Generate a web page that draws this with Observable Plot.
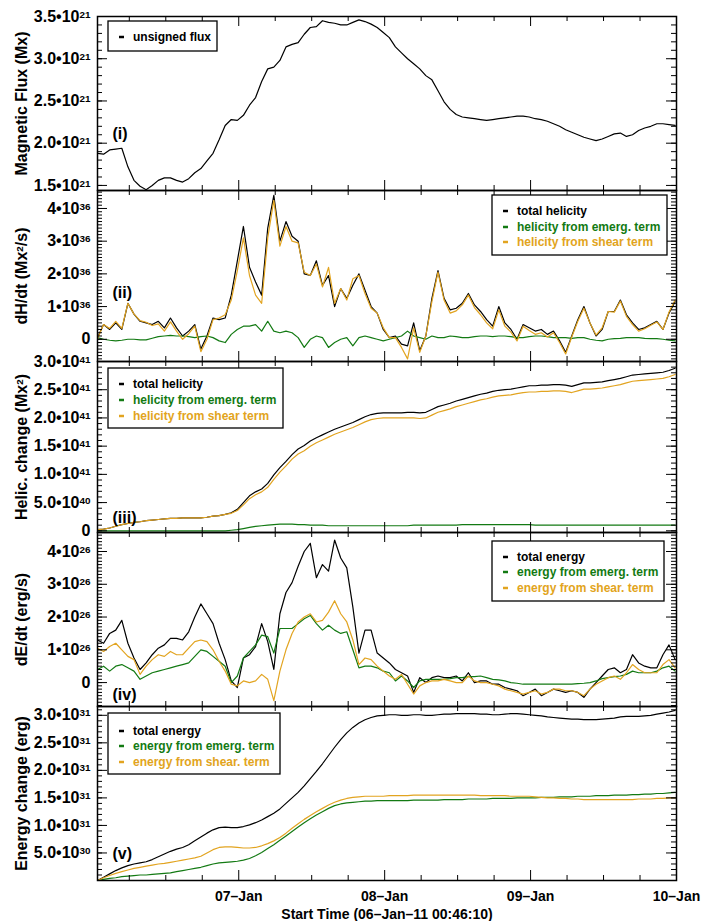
<!DOCTYPE html>
<html><head><meta charset="utf-8">
<script src="https://cdn.jsdelivr.net/npm/d3@7"></script>
<script src="https://cdn.jsdelivr.net/npm/@observablehq/plot@0.6"></script>
<style>
body{margin:0;background:#fff;}
#chart{width:705px;position:relative;}
#chart svg{display:block;}
</style></head><body><div id="chart"></div><script>
// ---------- time axis ----------
const startOffsetHours = 46/60 + 10/3600;          // 06-Jan-11 00:46:10
const hours = d3.range(0, 96);                      // sample times, hours after start
const xEnd = 96 - startOffsetHours;                 // 10-Jan 00:00
const dayLabels = ["07–Jan", "08–Jan", "09–Jan", "10–Jan"];
const dayTicks = [1, 2, 3, 4].map(d => d * 24 - startOffsetHours);
const sixHourTicks = d3.range(6, 96, 6).filter(h => h % 24 !== 0).map(h => h - startOffsetHours);
const xTitle = "Start Time (06–Jan–11 00:46:10)";

// ---------- (i) unsigned flux, 1e21 Mx ----------
const fluxUnsigned = [1.88,1.87,1.92,1.93,1.94,1.72,1.56,1.49,1.45,1.50,
 1.56,1.59,1.59,1.56,1.54,1.58,1.65,1.70,1.79,1.88,
 2.04,2.21,2.28,2.27,2.33,2.45,2.54,2.73,2.88,2.90,
 2.98,3.14,3.17,3.19,3.29,3.37,3.38,3.45,3.43,3.42,
 3.40,3.40,3.43,3.46,3.44,3.41,3.37,3.31,3.25,3.14,
 3.07,3.00,2.94,2.88,2.80,2.75,2.62,2.49,2.40,2.34,
 2.31,2.30,2.29,2.28,2.27,2.28,2.29,2.30,2.31,2.32,
 2.32,2.31,2.29,2.28,2.26,2.23,2.20,2.16,2.13,2.10,
 2.07,2.05,2.03,2.05,2.08,2.11,2.12,2.08,2.10,2.15,
 2.18,2.20,2.23,2.23,2.22,2.21];

// ---------- (ii) dH/dt, 1e36 Mx^2/s ----------
const dHdtTotal = [0.05,0.45,0.30,0.50,0.30,1.10,0.77,0.55,0.50,0.45,
 0.55,0.35,0.65,0.35,0.10,0.25,0.45,-0.30,0.10,0.65,
 0.60,0.65,1.35,2.40,3.45,2.20,1.75,1.35,3.40,4.40,
 3.00,3.60,3.15,3.00,2.00,1.95,2.40,1.65,1.95,1.00,
 1.55,1.25,1.65,2.00,1.50,1.00,0.80,0.30,0.05,0.10,
 -0.15,-0.20,0.50,-0.35,0.10,1.25,2.10,1.25,0.90,0.95,
 1.10,1.40,1.05,0.85,0.60,0.40,1.00,0.50,0.30,0.00,
 0.45,0.35,0.25,0.30,0.15,0.25,-0.05,-0.40,0.10,0.60,
 1.00,0.50,0.10,0.30,0.85,0.85,1.20,0.75,0.50,0.30,
 0.35,0.45,0.55,0.30,0.80,1.15];
const dHdtEmerg = [0.05,0.00,-0.03,-0.05,-0.03,0.00,0.00,-0.02,-0.02,0.03,
 0.08,0.10,0.12,0.10,0.10,0.08,0.05,0.08,0.10,0.05,
 -0.05,-0.10,0.15,0.30,0.40,0.40,0.45,0.25,0.55,0.25,
 0.20,0.25,0.20,0.05,-0.25,0.00,0.10,0.05,-0.25,-0.10,
 0.00,0.05,-0.20,0.05,0.10,0.05,0.00,-0.05,0.00,0.05,
 0.10,0.25,0.10,0.05,0.00,0.10,0.05,0.05,0.10,0.08,
 0.05,0.05,0.08,0.10,0.10,0.08,0.10,0.10,0.08,0.05,
 0.05,0.08,0.10,0.10,0.08,0.05,0.05,0.05,0.03,0.05,
 0.05,0.00,-0.03,-0.05,0.00,0.02,0.03,0.05,0.05,0.05,
 0.03,0.02,0.02,0.00,-0.03,-0.05];
const dHdtShear = [0.02,0.45,0.33,0.55,0.33,1.10,0.77,0.57,0.52,0.42,
 0.47,0.25,0.53,0.25,0.00,0.17,0.40,-0.38,0.00,0.60,
 0.65,0.75,1.20,2.10,3.10,1.95,1.35,1.10,3.10,4.25,
 2.85,3.45,3.00,2.95,2.05,1.95,2.30,1.60,2.20,1.10,
 1.55,1.20,1.85,1.95,1.40,0.95,0.80,0.35,0.05,0.05,
 -0.25,-0.60,0.35,-0.40,0.10,1.15,2.05,1.20,0.80,0.87,
 1.05,1.35,0.97,0.75,0.50,0.32,0.90,0.40,0.22,-0.05,
 0.40,0.27,0.15,0.20,0.07,0.20,-0.10,-0.45,0.07,0.55,
 0.95,0.50,0.13,0.35,0.85,0.83,1.17,0.70,0.45,0.25,
 0.32,0.43,0.53,0.30,0.83,1.20];

// ---------- (iii) helicity change, 1e41 Mx^2 ----------
const helTotal = [0.02,0.03,0.05,0.08,0.11,0.13,0.15,0.16,0.18,0.19,
 0.20,0.21,0.22,0.22,0.23,0.23,0.23,0.23,0.24,0.26,
 0.27,0.29,0.32,0.38,0.50,0.62,0.69,0.74,0.84,0.99,
 1.12,1.23,1.35,1.45,1.51,1.59,1.65,1.70,1.75,1.80,
 1.84,1.88,1.92,1.97,2.02,2.06,2.08,2.09,2.09,2.09,
 2.09,2.10,2.10,2.09,2.10,2.15,2.20,2.23,2.26,2.30,
 2.33,2.36,2.39,2.42,2.44,2.47,2.49,2.50,2.51,2.53,
 2.55,2.57,2.57,2.58,2.58,2.59,2.59,2.58,2.56,2.59,
 2.62,2.62,2.63,2.64,2.66,2.68,2.70,2.73,2.76,2.77,
 2.78,2.79,2.80,2.81,2.84,2.88];
const helEmerg = [0.00,0.00,0.00,0.00,0.00,0.00,0.00,0.00,0.00,0.00,
 0.00,0.00,0.00,0.00,0.00,0.00,0.00,0.00,0.00,0.00,
 0.00,0.00,0.01,0.02,0.04,0.06,0.08,0.09,0.10,0.11,
 0.12,0.12,0.12,0.11,0.11,0.10,0.10,0.10,0.09,0.09,
 0.09,0.09,0.09,0.09,0.09,0.09,0.09,0.09,0.09,0.09,
 0.09,0.09,0.10,0.10,0.10,0.10,0.10,0.10,0.10,0.10,
 0.11,0.11,0.11,0.11,0.11,0.11,0.11,0.11,0.11,0.11,
 0.11,0.11,0.10,0.10,0.10,0.10,0.10,0.10,0.10,0.10,
 0.10,0.10,0.10,0.10,0.10,0.10,0.10,0.10,0.10,0.10,
 0.10,0.10,0.10,0.10,0.10,0.10];
const helShear = [0.02,0.03,0.05,0.08,0.11,0.13,0.15,0.16,0.18,0.19,
 0.20,0.21,0.22,0.22,0.23,0.23,0.23,0.23,0.24,0.26,
 0.27,0.29,0.31,0.36,0.46,0.57,0.64,0.69,0.77,0.91,
 1.04,1.15,1.27,1.36,1.42,1.50,1.56,1.61,1.66,1.71,
 1.75,1.79,1.83,1.88,1.93,1.97,1.99,2.00,2.00,2.00,
 2.00,2.00,2.00,1.99,2.00,2.05,2.10,2.13,2.16,2.20,
 2.23,2.26,2.29,2.32,2.34,2.37,2.39,2.40,2.41,2.43,
 2.45,2.46,2.46,2.47,2.47,2.48,2.48,2.47,2.45,2.48,
 2.51,2.51,2.52,2.53,2.55,2.57,2.59,2.62,2.65,2.66,
 2.67,2.68,2.69,2.70,2.73,2.77];

// ---------- (iv) dE/dt, 1e26 erg/s ----------
const dEdtTotal = [1.30,1.20,1.50,1.60,1.90,1.20,0.75,0.40,0.60,0.85,
 1.05,1.15,1.35,1.35,1.30,1.55,2.00,2.40,2.10,1.80,
 1.20,0.70,0.05,-0.15,0.75,0.85,1.10,1.80,1.25,0.40,
 2.10,2.75,3.05,3.55,4.00,4.25,3.20,3.60,3.40,4.35,
 3.80,3.50,2.30,0.90,1.60,1.60,0.90,0.75,0.60,0.40,
 0.30,0.20,-0.30,0.15,0.00,0.15,0.20,0.15,0.15,0.20,
 0.05,0.30,0.00,0.05,0.05,-0.05,-0.05,-0.15,-0.20,-0.25,
 -0.40,-0.30,-0.20,-0.40,-0.30,-0.20,-0.25,-0.30,-0.25,-0.30,
 -0.45,-0.20,0.00,0.20,0.40,0.45,0.30,0.40,0.85,0.60,
 0.50,0.45,0.45,0.85,1.15,0.70];
const dEdtEmerg = [0.40,0.50,0.35,0.50,0.55,0.45,0.35,0.10,0.20,0.30,
 0.35,0.40,0.45,0.50,0.55,0.60,0.80,1.00,0.95,0.80,
 0.65,0.50,0.00,0.20,0.75,0.95,1.15,1.45,1.40,0.90,
 1.65,1.65,1.65,1.80,1.95,2.05,1.80,1.60,1.75,1.60,
 1.50,1.55,1.00,0.45,0.50,0.50,0.45,0.35,0.30,0.05,
 0.20,0.05,-0.15,0.05,0.10,0.10,0.10,0.10,0.12,0.15,
 0.15,0.18,0.18,0.20,0.15,0.10,0.08,0.05,0.00,-0.02,
 -0.05,-0.05,-0.05,-0.05,-0.05,-0.05,-0.05,-0.05,-0.05,-0.03,
 -0.02,0.00,0.05,0.12,0.15,0.18,0.20,0.25,0.35,0.30,
 0.30,0.30,0.35,0.45,0.50,0.35];
const dEdtShear = [1.05,0.95,1.10,1.20,1.00,0.80,0.70,0.25,0.50,0.70,
 0.85,0.80,0.95,0.85,0.85,1.05,1.25,1.30,1.25,1.00,
 0.65,0.35,-0.05,-0.10,0.05,0.00,0.05,0.25,0.10,-0.55,
 0.35,1.00,1.50,1.85,2.00,2.10,1.85,1.90,2.15,2.50,
 2.10,1.85,1.30,0.55,0.75,0.70,0.50,0.35,0.20,0.10,
 0.25,-0.05,-0.35,-0.10,0.00,0.05,0.05,0.10,0.05,0.00,
 0.00,0.20,0.05,0.00,0.00,-0.05,-0.10,-0.20,-0.25,-0.30,
 -0.35,-0.30,-0.25,-0.35,-0.30,-0.20,-0.20,-0.25,-0.25,-0.30,
 -0.40,-0.20,-0.05,0.05,0.15,0.20,0.10,0.30,0.55,0.40,
 0.30,0.30,0.30,0.55,0.70,0.45];

// ---------- (v) energy change, 1e31 erg ----------
const energyTotal = [0.00,0.06,0.12,0.18,0.23,0.27,0.30,0.32,0.34,0.38,
 0.43,0.48,0.53,0.57,0.60,0.65,0.72,0.79,0.86,0.92,
 0.96,0.97,0.96,0.96,0.98,1.01,1.05,1.10,1.16,1.22,
 1.30,1.40,1.50,1.60,1.72,1.85,1.98,2.12,2.27,2.42,
 2.56,2.68,2.78,2.86,2.92,2.96,2.99,3.00,3.01,3.01,
 3.00,3.00,3.01,3.01,3.00,3.00,3.01,3.02,3.02,3.03,
 3.03,3.03,3.03,3.02,3.02,3.01,3.01,3.02,3.03,3.03,
 3.02,3.01,3.00,2.99,2.97,2.96,2.95,2.94,2.93,2.93,
 2.92,2.92,2.92,2.93,2.94,2.95,2.97,2.98,2.98,2.98,
 2.99,3.00,3.02,3.04,3.06,3.09];
const energyEmerg = [0.00,0.02,0.04,0.05,0.07,0.08,0.09,0.10,0.10,0.11,
 0.12,0.13,0.14,0.16,0.18,0.20,0.22,0.24,0.27,0.30,
 0.32,0.33,0.34,0.35,0.37,0.40,0.45,0.51,0.58,0.65,
 0.73,0.81,0.89,0.97,1.05,1.12,1.19,1.25,1.31,1.36,
 1.39,1.41,1.42,1.43,1.44,1.44,1.45,1.45,1.45,1.45,
 1.45,1.45,1.46,1.46,1.46,1.46,1.46,1.47,1.47,1.47,
 1.47,1.48,1.48,1.48,1.48,1.49,1.49,1.49,1.49,1.50,
 1.50,1.50,1.50,1.51,1.51,1.51,1.52,1.52,1.52,1.53,
 1.53,1.53,1.54,1.54,1.54,1.55,1.55,1.55,1.56,1.56,
 1.57,1.57,1.58,1.58,1.59,1.60];
const energyShear = [0.00,0.05,0.09,0.13,0.16,0.19,0.22,0.24,0.26,0.28,
 0.30,0.31,0.33,0.35,0.37,0.39,0.41,0.44,0.50,0.56,
 0.60,0.61,0.61,0.60,0.59,0.59,0.60,0.63,0.67,0.72,
 0.78,0.86,0.95,1.03,1.11,1.18,1.25,1.31,1.37,1.42,
 1.46,1.49,1.51,1.52,1.53,1.53,1.53,1.53,1.54,1.54,
 1.54,1.54,1.55,1.55,1.55,1.55,1.55,1.55,1.55,1.55,
 1.55,1.55,1.55,1.54,1.54,1.54,1.54,1.54,1.53,1.53,
 1.53,1.53,1.52,1.51,1.50,1.50,1.49,1.49,1.48,1.48,
 1.47,1.47,1.47,1.47,1.47,1.47,1.47,1.47,1.47,1.48,
 1.48,1.48,1.49,1.49,1.50,1.50];

// ---------- styling ----------
const BLACK = "#000000", GREEN = "#137a13", ORANGE = "#e2a420";
const W = 705, ML = 97, MR = 29, plotW = W - ML - MR;
const FONT = '"Liberation Sans", Arial, Helvetica, sans-serif';

const panels = [
  {top: 0, height: 190, marginTop: 16, marginBottom: 0,
   yDomain: [1.44, 3.5], yTicks: [1.5, 2.0, 2.5, 3.0, 3.5], yMinor: d3.range(1.5, 3.5, 0.1),
   yFormat: d => d.toFixed(1) + "•10^{21}", yLabel: "Magnetic Flux (Mx)",
   series: [{values: fluxUnsigned, color: BLACK}],
   tag: "(i)", tagDy: -57,
   legend: {box: [108, 21, 217, 51], x: "left", items: [{label: "unsigned flux", color: BLACK, y: 37}]}},
  {top: 190, height: 171, marginTop: 0, marginBottom: 0,
   yDomain: [-0.68, 4.55], yTicks: [0, 1, 2, 3, 4], yMinor: d3.range(-0.6, 4.55, 0.1),
   yFormat: d => d === 0 ? "0" : d + "•10^{36}", yLabel: "dH/dt (Mx^{2}/s)",
   series: [{values: dHdtTotal, color: BLACK}, {values: dHdtEmerg, color: GREEN}, {values: dHdtShear, color: ORANGE}],
   tag: "(ii)", tagDy: -69,
   legend: {box: [492, 195, 667, 255], x: "right", items: [
     {label: "total helicity", color: BLACK, y: 211},
     {label: "helicity from emerg. term", color: GREEN, y: 227},
     {label: "helicity from shear term", color: ORANGE, y: 242}]}},
  {top: 361, height: 171, marginTop: 0, marginBottom: 0,
   yDomain: [-0.03, 3.0], yTicks: [0, 0.5, 1.0, 1.5, 2.0, 2.5, 3.0], yMinor: d3.range(0, 3.0, 0.1),
   yFormat: d => d === 0 ? "0" : d === 0.5 ? "5.0•10^{40}" : d.toFixed(1) + "•10^{41}", yLabel: "Helic. change (Mx^{2})",
   series: [{values: helTotal, color: BLACK}, {values: helEmerg, color: GREEN}, {values: helShear, color: ORANGE}],
   tag: "(iii)", tagDy: -15,
   legend: {box: [108, 368, 283, 428], x: "left", items: [
     {label: "total helicity", color: BLACK, y: 384},
     {label: "helicity from emerg. term", color: GREEN, y: 400},
     {label: "helicity from shear term", color: ORANGE, y: 416}]}},
  {top: 532, height: 174, marginTop: 0, marginBottom: 0,
   yDomain: [-0.73, 4.58], yTicks: [0, 1, 2, 3, 4], yMinor: d3.range(-0.7, 4.58, 0.1),
   yFormat: d => d === 0 ? "0" : d + "•10^{26}", yLabel: "dE/dt (erg/s)",
   series: [{values: dEdtTotal, color: BLACK}, {values: dEdtEmerg, color: GREEN}, {values: dEdtShear, color: ORANGE}],
   tag: "(iv)", tagDy: -12,
   legend: {box: [492, 541, 664, 601], x: "right", items: [
     {label: "total energy", color: BLACK, y: 557},
     {label: "energy from emerg. term", color: GREEN, y: 572},
     {label: "energy from shear. term", color: ORANGE, y: 588}]}},
  {top: 706, height: 215, marginTop: 0, marginBottom: 41,
   yDomain: [0, 3.16], yTicks: [0.5, 1.0, 1.5, 2.0, 2.5, 3.0], yMinor: d3.range(0.1, 3.16, 0.1),
   yFormat: d => d === 0.5 ? "5.0•10^{30}" : d.toFixed(1) + "•10^{31}", yLabel: "Energy change (erg)",
   series: [{values: energyTotal, color: BLACK}, {values: energyEmerg, color: GREEN}, {values: energyShear, color: ORANGE}],
   tag: "(v)", tagDy: -27, xAxis: true,
   legend: {box: [108, 713, 280, 774], x: "left", items: [
     {label: "total energy", color: BLACK, y: 731},
     {label: "energy from emerg. term", color: GREEN, y: 746},
     {label: "energy from shear. term", color: ORANGE, y: 762}]}}
];

function applySup(root) {
  root.querySelectorAll("text").forEach(t => {
    const s = t.textContent;
    if (!s.includes("^{")) return;
    while (t.firstChild) t.removeChild(t.firstChild);
    const re = /\^\{([^}]*)\}/g;
    let last = 0, m;
    const add = (str, sup) => {
      const ts = document.createElementNS("http://www.w3.org/2000/svg", "tspan");
      ts.textContent = str;
      if (sup) { ts.setAttribute("baseline-shift", "45%"); ts.setAttribute("font-size", "0.62em"); }
      t.appendChild(ts);
    };
    while ((m = re.exec(s))) {
      if (m.index > last) add(s.slice(last, m.index), false);
      add(m[1], true);
      last = re.lastIndex;
    }
    if (last < s.length) add(s.slice(last), false);
  });
}

const chart = document.getElementById("chart");
panels.forEach(p => {
  const innerH = p.height - p.marginTop - p.marginBottom;
  const inY = v => v >= p.yDomain[0] - 1e-9 && v <= p.yDomain[1] + 1e-9;
  const minor = p.yMinor.filter(inY);
  const marks = [];
  p.series.forEach(s => {
    marks.push(Plot.line(hours.map((h, i) => ({h, v: s.values[i]})),
      {x: "h", y: "v", stroke: s.color, strokeWidth: 1.2, clip: "frame"}));
  });
  // inward tick marks on all four sides
  marks.push(Plot.ruleY(minor, {y: d => d, insetRight: plotW - 5, strokeWidth: 1}));
  marks.push(Plot.ruleY(minor, {y: d => d, insetLeft: plotW - 5, strokeWidth: 1}));
  marks.push(Plot.ruleY(p.yTicks, {y: d => d, insetRight: plotW - 10, strokeWidth: 1}));
  marks.push(Plot.ruleY(p.yTicks, {y: d => d, insetLeft: plotW - 10, strokeWidth: 1}));
  marks.push(Plot.ruleX(sixHourTicks, {x: d => d, insetBottom: innerH - 5, strokeWidth: 1}));
  marks.push(Plot.ruleX(sixHourTicks, {x: d => d, insetTop: innerH - 5, strokeWidth: 1}));
  marks.push(Plot.ruleX(dayTicks, {x: d => d, insetBottom: innerH - 10, strokeWidth: 1}));
  marks.push(Plot.ruleX(dayTicks, {x: d => d, insetTop: innerH - 10, strokeWidth: 1}));
  marks.push(Plot.frame({stroke: "black", strokeWidth: 1.5}));
  marks.push(Plot.axisY(p.yTicks, {anchor: "left", tickSize: 0, tickPadding: 7,
    tickFormat: p.yFormat, label: p.yLabel, labelAnchor: "center", labelArrow: "none", labelOffset: 82}));
  if (p.xAxis) {
    marks.push(Plot.axisX(dayTicks, {anchor: "bottom", tickSize: 0, tickPadding: 11, fontSize: 14,
      tickFormat: d => dayLabels[Math.round((d + startOffsetHours) / 24) - 1],
      label: xTitle, labelAnchor: "center", labelArrow: "none", labelOffset: 38}));
  }
  marks.push(Plot.text([p.tag], {frameAnchor: "bottom-left", dx: 15, dy: p.tagDy, text: d => d,
    textAnchor: "start", lineAnchor: "middle", fontSize: 16, fontWeight: "bold"}));

  const svg = Plot.plot({
    width: W, height: p.height,
    marginLeft: ML, marginRight: MR, marginTop: p.marginTop, marginBottom: p.marginBottom,
    x: {domain: [0, xEnd], axis: null},
    y: {domain: p.yDomain, axis: null},
    style: {fontFamily: FONT, fontSize: "16px", fontWeight: "bold", background: "transparent", overflow: "visible", color: "black"},
    marks
  });
  // legend box
  const g = d3.select(svg).append("g").attr("text-anchor", "start");
  const [x0, y0, x1, y1] = p.legend.box;
  g.append("rect").attr("x", x0).attr("y", y0 - p.top).attr("width", x1 - x0).attr("height", y1 - y0)
    .attr("fill", "white").attr("stroke", "black").attr("stroke-width", 1.3);
  const mx = p.legend.x === "left" ? 119 : 503;
  const tx = p.legend.x === "left" ? 133 : 517;
  p.legend.items.forEach(it => {
    g.append("line").attr("x1", mx).attr("x2", mx + 5).attr("y1", it.y - p.top).attr("y2", it.y - p.top)
      .attr("stroke", it.color).attr("stroke-width", 2.5);
    g.append("text").attr("x", tx).attr("y", it.y - p.top).attr("dy", "0.36em")
      .attr("text-anchor", "start")
      .attr("fill", it.color).attr("font-size", 12).attr("font-weight", "bold").text(it.label);
  });
  applySup(svg);
  chart.appendChild(svg);
});
</script></body></html>
